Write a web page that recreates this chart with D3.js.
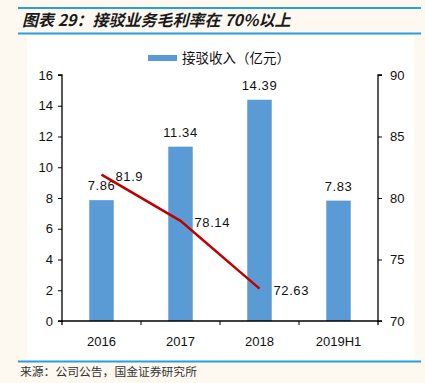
<!DOCTYPE html>
<html>
<head>
<meta charset="utf-8">
<script src="https://cdn.jsdelivr.net/npm/d3@7"></script>
<style>
  body { margin: 0; background: #fdf9f0; }
  svg { display: block; }
</style>
</head>
<body>
<script>
var categories = ['2016', '2017', '2018', '2019H1'];
var revenue = [7.86, 11.34, 14.39, 7.83];
var margin = [81.9, 78.14, 72.63];
var leftTicks = [0, 2, 4, 6, 8, 10, 12, 14, 16];
var rightTicks = [70, 75, 80, 85, 90];

var W = 425, H = 383;
var cjk = '"Noto Sans CJK SC", sans-serif';
var latin = '"Liberation Sans", Arial, sans-serif';

var svg = d3.select('body').append('svg')
    .attr('width', W)
    .attr('height', H);

// page background + white chart panel
svg.append('rect').attr('width', W).attr('height', H).attr('fill', '#fdf9f0');
svg.append('rect')
    .attr('x', 27).attr('y', 35)
    .attr('width', 387).attr('height', 325)
    .attr('fill', '#ffffff');

// title block
svg.append('line').attr('x1', 18).attr('x2', 421).attr('y1', 8).attr('y2', 8)
    .attr('stroke', '#2a9ee0').attr('stroke-width', 2);
svg.append('line').attr('x1', 18).attr('x2', 421).attr('y1', 33.5).attr('y2', 33.5)
    .attr('stroke', '#2a9ee0').attr('stroke-width', 2);
svg.append('text')
    .attr('x', 22).attr('y', 26)
    .attr('font-family', cjk)
    .attr('font-size', 16)
    .attr('font-weight', 'bold')
    .attr('font-style', 'italic')
    .attr('fill', '#1a1a1a')
    .text('图表 29：接驳业务毛利率在 70%以上');

// bottom rule + source
svg.append('line').attr('x1', 18).attr('x2', 421).attr('y1', 361.5).attr('y2', 361.5)
    .attr('stroke', '#2a9ee0').attr('stroke-width', 2);
svg.append('text')
    .attr('x', 20).attr('y', 376)
    .attr('font-family', cjk)
    .attr('font-size', 11.8)
    .attr('fill', '#333')
    .text('来源：公司公告，国金证券研究所');

// scales
var x = d3.scaleBand().domain(categories).range([62, 378]).paddingInner(0.69).paddingOuter(0.345);
var yL = d3.scaleLinear().domain([0, 16]).range([321, 75]);
var yR = d3.scaleLinear().domain([70, 90]).range([321, 75]);
var xc = function(d) { return x(d) + x.bandwidth() / 2; };

// bars
svg.selectAll('rect.bar')
    .data(revenue)
    .enter().append('rect')
    .attr('class', 'bar')
    .attr('x', function(d, i) { return x(categories[i]); })
    .attr('width', x.bandwidth())
    .attr('y', function(d) { return yL(d); })
    .attr('height', function(d) { return yL(0) - yL(d); })
    .attr('fill', '#5b9bd5');

svg.selectAll('text.barlabel')
    .data(revenue)
    .enter().append('text')
    .attr('class', 'barlabel')
    .attr('x', function(d, i) { return xc(categories[i]); })
    .attr('y', function(d) { return yL(d) - 10; })
    .attr('text-anchor', 'middle')
    .attr('font-family', latin)
    .attr('font-size', 13)
    .attr('letter-spacing', 0.6)
    .attr('fill', '#111')
    .text(function(d) { return d.toFixed(2); });

// margin line
var line = d3.line()
    .x(function(d, i) { return xc(categories[i]); })
    .y(function(d) { return yR(d); });
svg.append('path')
    .datum(margin)
    .attr('d', line)
    .attr('fill', 'none')
    .attr('stroke', '#c00000')
    .attr('stroke-width', 2.5);

svg.selectAll('text.linelabel')
    .data(margin)
    .enter().append('text')
    .attr('class', 'linelabel')
    .attr('x', function(d, i) { return xc(categories[i]) + 14; })
    .attr('y', function(d) { return yR(d) + 6; })
    .attr('font-family', latin)
    .attr('font-size', 13)
    .attr('letter-spacing', 0.6)
    .attr('fill', '#111')
    .text(function(d) { return String(d); });

// axes
var axisL = svg.append('g')
    .attr('transform', 'translate(62,0)')
    .call(d3.axisLeft(yL).tickValues(leftTicks).tickSize(4).tickPadding(5));
var axisR = svg.append('g')
    .attr('transform', 'translate(378,0)')
    .call(d3.axisRight(yR).tickValues(rightTicks).tickSize(4).tickPadding(8));
var axisX = svg.append('g')
    .attr('transform', 'translate(0,321)')
    .call(d3.axisBottom(x).tickSize(0).tickPadding(16));

// x ticks at band boundaries
svg.selectAll('line.xtick')
    .data(categories.slice(1))
    .enter().append('line')
    .attr('class', 'xtick')
    .attr('x1', function(d) { return x(d) - x.step() * x.paddingInner() / 2; })
    .attr('x2', function(d) { return x(d) - x.step() * x.paddingInner() / 2; })
    .attr('y1', 321).attr('y2', 325)
    .attr('stroke', '#000');

[axisL, axisR, axisX].forEach(function(g) {
    g.selectAll('path.domain').attr('stroke', '#000').attr('stroke-width', 1.3);
    g.selectAll('.tick line').attr('stroke', '#000');
    g.selectAll('text')
        .attr('font-family', latin)
        .attr('font-size', 13)
        .attr('fill', '#111');
});
axisL.select('path.domain').attr('d', 'M-4,75H0V325');
axisR.select('path.domain').attr('d', 'M4,75H0V325');
axisX.select('path.domain').attr('d', 'M58,0H382');

// legend
svg.append('rect')
    .attr('x', 148).attr('y', 55)
    .attr('width', 29).attr('height', 6)
    .attr('fill', '#5b9bd5');
svg.append('text')
    .attr('x', 182).attr('y', 63)
    .attr('font-family', cjk)
    .attr('font-size', 13.5)
    .attr('fill', '#111')
    .text('接驳收入（亿元）');
</script>
</body>
</html>
